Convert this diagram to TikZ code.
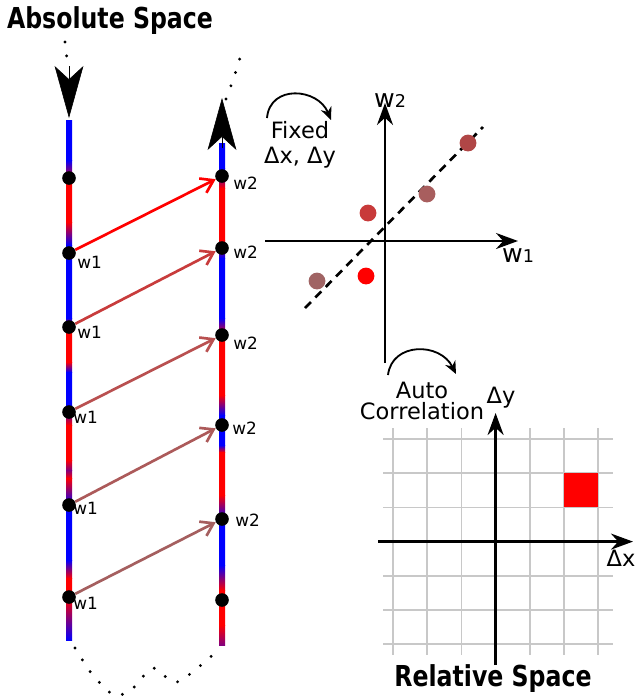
\documentclass[tikz,border=0pt]{standalone}
\usepackage{fontspec}
\setmainfont{DejaVu Sans}
\usetikzlibrary{positioning,arrows.meta}
\definecolor{linkB}{RGB}{200,60,60}
\definecolor{linkC}{RGB}{185,80,80}
\definecolor{linkD}{RGB}{172,90,90}
\definecolor{linkE}{RGB}{165,95,95}
\definecolor{scatA}{RGB}{176,70,70}
\definecolor{scatB}{RGB}{168,94,94}
\definecolor{scatC}{RGB}{200,58,58}
\definecolor{scatD}{RGB}{160,100,100}
\definecolor{gridgray}{RGB}{200,200,200}
\definecolor{violet}{RGB}{128,0,128}
\newcommand{\wsub}[1]{w{\fontsize{12.5}{12}\selectfont #1}}
\newcommand{\heading}[1]{\scalebox{0.82}[1]{#1}}

\begin{document}
\begin{tikzpicture}[x=0.025cm,y=-0.025cm,
  blob/.style={circle,fill=black,inner sep=0pt,minimum size=0.34cm},
  scat/.style={circle,inner sep=0pt,minimum size=0.42cm},
  wlab/.style={font=\fontsize{12}{14}\selectfont,inner sep=0pt},
  lbl/.style={font=\fontsize{16}{18}\selectfont,align=center,inner sep=0pt},
  ttl/.style={font=\fontsize{20.5}{23}\selectfont\bfseries,inner sep=0pt},
  axisline/.style={line width=1.7pt,-{Stealth[length=5.5mm,width=4mm,inset=1.8mm]}},
  dotline/.style={line width=2.3pt,line cap=round,dash pattern=on 0pt off 10pt},
  link/.style={line width=1.9pt,-{Straight Barb[length=3mm,width=4mm]}},
  bigtip/.style={-{Stealth[length=1.3cm,width=0.72cm,inset=0.33cm]}},
  turn/.style={line width=1.3pt,-{Stealth[length=3.2mm,width=2.8mm]}}]

\useasboundingbox (0,0) rectangle (637,699);

% titles
\node[ttl] (abs) at (110,21) {\heading{Absolute Space}};
\node[ttl] (rel) at (493,679) {\heading{Relative Space}};

% the two colour bars
\foreach \ya/\yb/\ca/\cb in {120/160/blue/blue,160/182/blue/red,182/222/red/red,222/245/red/blue,
    245/318/blue/blue,318/326/blue/red,326/362/red/red,362/372/red/blue,372/405/blue/blue,
    405/425/blue/red,425/460/red/red,460/470/red/violet,470/478/violet/red,478/505/red/blue,
    505/560/blue/blue,560/578/blue/red,578/598/red/red,598/640/red/blue}
  \shade[top color=\ca,bottom color=\cb] (66,\ya) rectangle (72,\yb+0.5);
\foreach \ya/\yb/\ca/\cb in {143/168/blue/blue,168/188/blue/red,188/240/red/red,240/258/red/blue,
    258/318/blue/blue,318/335/blue/red,335/395/red/red,395/415/red/blue,415/445/blue/blue,
    445/452/blue/red,452/495/red/red,495/520/red/blue,520/565/blue/blue,565/590/blue/red,
    590/625/red/red,625/645/red/violet}
  \shade[top color=\ca,bottom color=\cb] (219,\ya) rectangle (225,\yb+0.5);

% bar ends
\coordinate (ltop) at (69,66);
\coordinate (ltip) at (69,118);
\coordinate (rtop) at (222,148);
\coordinate (rtip) at (222,98);
\draw[bigtip] (ltop) -- (ltip);
\draw[bigtip] (rtop) -- (rtip);
\draw[dotline] (65,42) -- (68,68);
\draw[dotline] (226,99) .. controls (234,78) .. (243,48);
\draw[dotline] plot[smooth] coordinates {(75,648) (92,674) (114,695) (132,689) (153,668) (177,682) (216,652)};

% samples on the bars
\foreach \y [count=\i] in {178,253,327,412,505,597}
  \node[blob] (l\i) at (69,\y) {};
\foreach \y [count=\i] in {176,248,335,425,519,600}
  \node[blob] (r\i) at (222,\y) {};
\foreach \i/\dx/\dy in {2/8/9,3/8/5,4/4/5,5/4/3,6/4/6}
  \node[wlab,anchor=west] (lw\i) at ([shift={(\dx,\dy)}]l\i.center) {w1};
\foreach \i/\dx/\dy in {1/11/7,2/11/4,3/11/8,4/10/3,5/13/1}
  \node[wlab,anchor=west] (rw\i) at ([shift={(\dx,\dy)}]r\i.center) {w2};

% fixed offsets
\foreach \a/\b/\c in {l2/r1/red,l3/r2/linkB,l4/r3/linkC,l5/r4/linkD,l6/r5/linkE}
  \draw[link,\c] (\a) -- (\b);

% joint histogram of w1, w2
\draw[axisline] (385,363) -- (385,103);
\draw[axisline] (265,241) -- (518,241);
\node[lbl,anchor=base,font=\fontsize{18}{18}\selectfont] (w2ax) at (390,107) {\wsub{2}};
\node[lbl,anchor=base,font=\fontsize{18}{18}\selectfont] (w1ax) at (518,262) {\wsub{1}};
\draw[line width=1.9pt,dash pattern=on 6pt off 4.5pt] (305,308) -- (483,127);
\node[scat,fill=scatA] (p1) at (468,143) {};
\node[scat,fill=scatB] (p2) at (427,194) {};
\node[scat,fill=scatC] (p3) at (368,213) {};
\node[scat,fill=red] (p4) at (366,276) {};
\node[scat,fill=scatD] (p5) at (317,281) {};

\node[lbl] (fixed) at (300,145) {Fixed\\Δx, Δy};
\draw[turn] (267,118) .. controls (270,84) and (318,88) .. (331,120);

% relative space grid
\foreach \i in {0,...,6} {
  \draw[gridgray,line width=1.1pt] (393+34.2*\i,428) -- (393+34.2*\i,655);
  \draw[gridgray,line width=1.1pt] (383,439+34.2*\i) -- (613,439+34.2*\i);
}
\fill[red] (564,473.2) rectangle (598.2,507.4);
\draw[axisline] (378,541.6) -- (633,541.6);
\draw[axisline] (495.6,665) -- (495.6,413);
\node[lbl] (dy) at (501,398) {Δy};
\node[lbl] (dx) at (621,558) {Δx};

\node[lbl] (auto) at (422,401) {Auto\\[-3pt]Correlation};
\draw[turn] (388,375) .. controls (392,342) and (440,342) .. (456,374);
\end{tikzpicture}
\end{document}
